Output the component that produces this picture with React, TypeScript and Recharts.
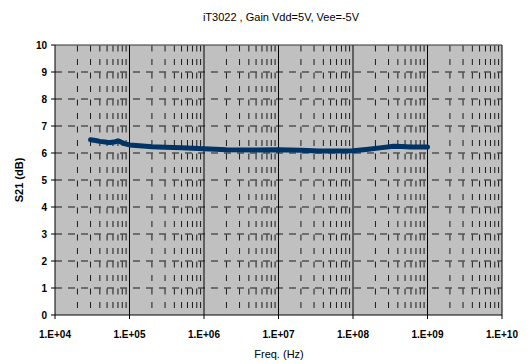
import React from "react";
import {
  ComposedChart,
  Line,
  XAxis,
  YAxis,
  ReferenceLine,
  ReferenceArea,
} from "recharts";

const freqHz = [
  3.0e4, 3.5e4, 4e4, 5e4, 5.5e4, 6.5e4, 7e4, 7.5e4, 8.5e4, 1e5, 1.5e5, 2e5, 3e5,
  5e5, 1e6, 2e6, 5e6, 1e7, 2e7, 3.5e7, 6e7, 1e8, 1.5e8, 2.3e8, 3.5e8, 4.5e8, 6e8,
  8e8, 1e9,
];
const s21dB = [
  6.49, 6.46, 6.43, 6.4, 6.39, 6.42, 6.45, 6.42, 6.35, 6.3, 6.26, 6.23, 6.21, 6.19,
  6.16, 6.12, 6.11, 6.12, 6.1, 6.07, 6.07, 6.08, 6.13, 6.19, 6.25, 6.24, 6.22, 6.22,
  6.22,
];
const xTicks = [1e4, 1e5, 1e6, 1e7, 1e8, 1e9, 1e10];
const yTicks = [0, 1, 2, 3, 4, 5, 6, 7, 8, 9, 10];
const decades = [1e4, 1e5, 1e6, 1e7, 1e8, 1e9];
const minorMultipliers = [2, 3, 4, 5, 6, 7, 8, 9];
const majorX = [1e5, 1e6, 1e7, 1e8, 1e9];
const horizontalGrid = [1, 2, 3, 4, 5, 6, 7, 8, 9];

const data = freqHz.map((f, i) => ({ f, s21: s21dB[i] }));
const minorX: number[] = [];
decades.forEach((d) => minorMultipliers.forEach((m) => minorX.push(d * m)));

const fmt = (v: number) =>
  "1.E+" + String(Math.round(Math.log10(v))).padStart(2, "0");

const FONT = "'Liberation Sans', Arial, sans-serif";

const XTick = (props: any) => {
  const { x, y, payload } = props;
  return (
    <text
      x={x}
      y={y}
      dy={8}
      textAnchor="middle"
      fontSize={10}
      fontWeight={700}
      fontFamily={FONT}
      fill="#000"
    >
      {fmt(payload.value)}
    </text>
  );
};

const YTick = (props: any) => {
  const { x, y, payload } = props;
  return (
    <text
      x={x}
      y={y}
      dy={3.5}
      textAnchor="end"
      fontSize={10}
      fontWeight={700}
      fontFamily={FONT}
      fill="#000"
    >
      {payload.value}
    </text>
  );
};

export default function App() {
  return (
    <div style={{ position: "absolute", left: 0, top: 0, width: 531, height: 364, background: "#fff" }}>
      <ComposedChart
        width={531}
        height={364}
        data={data}
        margin={{ top: 45, right: 29, bottom: 0, left: 0 }}
      >
        <ReferenceArea
          x1={1e4}
          x2={1e10}
          y1={0}
          y2={10}
          fill="#C0C0C0"
          fillOpacity={1}
          stroke="none"
        />
        {horizontalGrid.map((y) => (
          <ReferenceLine
            key={"h" + y}
            y={y}
            stroke="#1a1a1a"
            strokeWidth={1}
            strokeDasharray="7 6"
          />
        ))}
        {minorX.map((x) => (
          <ReferenceLine
            key={"m" + x}
            x={x}
            stroke="#1a1a1a"
            strokeWidth={1}
            strokeDasharray="6 7.5"
            strokeDashoffset={-7}
          />
        ))}
        {majorX.map((x) => (
          <ReferenceLine key={"M" + x} x={x} stroke="#000" strokeWidth={1} />
        ))}
        <ReferenceLine x={1e10} stroke="#000" strokeWidth={1} />
        <ReferenceLine y={10} stroke="#333" strokeWidth={1} />
        <XAxis
          dataKey="f"
          type="number"
          scale="log"
          domain={[1e4, 1e10]}
          ticks={xTicks}
          interval={0}
          allowDataOverflow
          height={49}
          stroke="#000"
          tickSize={4}
          tickMargin={11}
          tick={<XTick />}
        />
        <YAxis
          type="number"
          domain={[0, 10]}
          ticks={yTicks}
          interval={0}
          width={55}
          stroke="#000"
          tickSize={4}
          tickMargin={4}
          tick={<YTick />}
        />
        <Line
          dataKey="s21"
          type="linear"
          stroke="#003366"
          strokeWidth={5}
          strokeLinecap="round"
          strokeLinejoin="round"
          dot={false}
          isAnimationActive={false}
        />
      </ComposedChart>
      <svg
        width={531}
        height={364}
        style={{ position: "absolute", left: 0, top: 0, pointerEvents: "none" }}
      >
        <text x={281} y={21} textAnchor="middle" fontSize={11} fontFamily={FONT} fill="#000">
          iT3022 , Gain Vdd=5V, Vee=-5V
        </text>
        <text x={279} y={358} textAnchor="middle" fontSize={11} fontFamily={FONT} fill="#000">
          Freq. (Hz)
        </text>
        <text
          x={0}
          y={0}
          transform="translate(23,180) rotate(-90)"
          textAnchor="middle"
          fontSize={11}
          fontWeight={700}
          fontFamily={FONT}
          fill="#000"
        >
          S21 (dB)
        </text>
      </svg>
    </div>
  );
}
